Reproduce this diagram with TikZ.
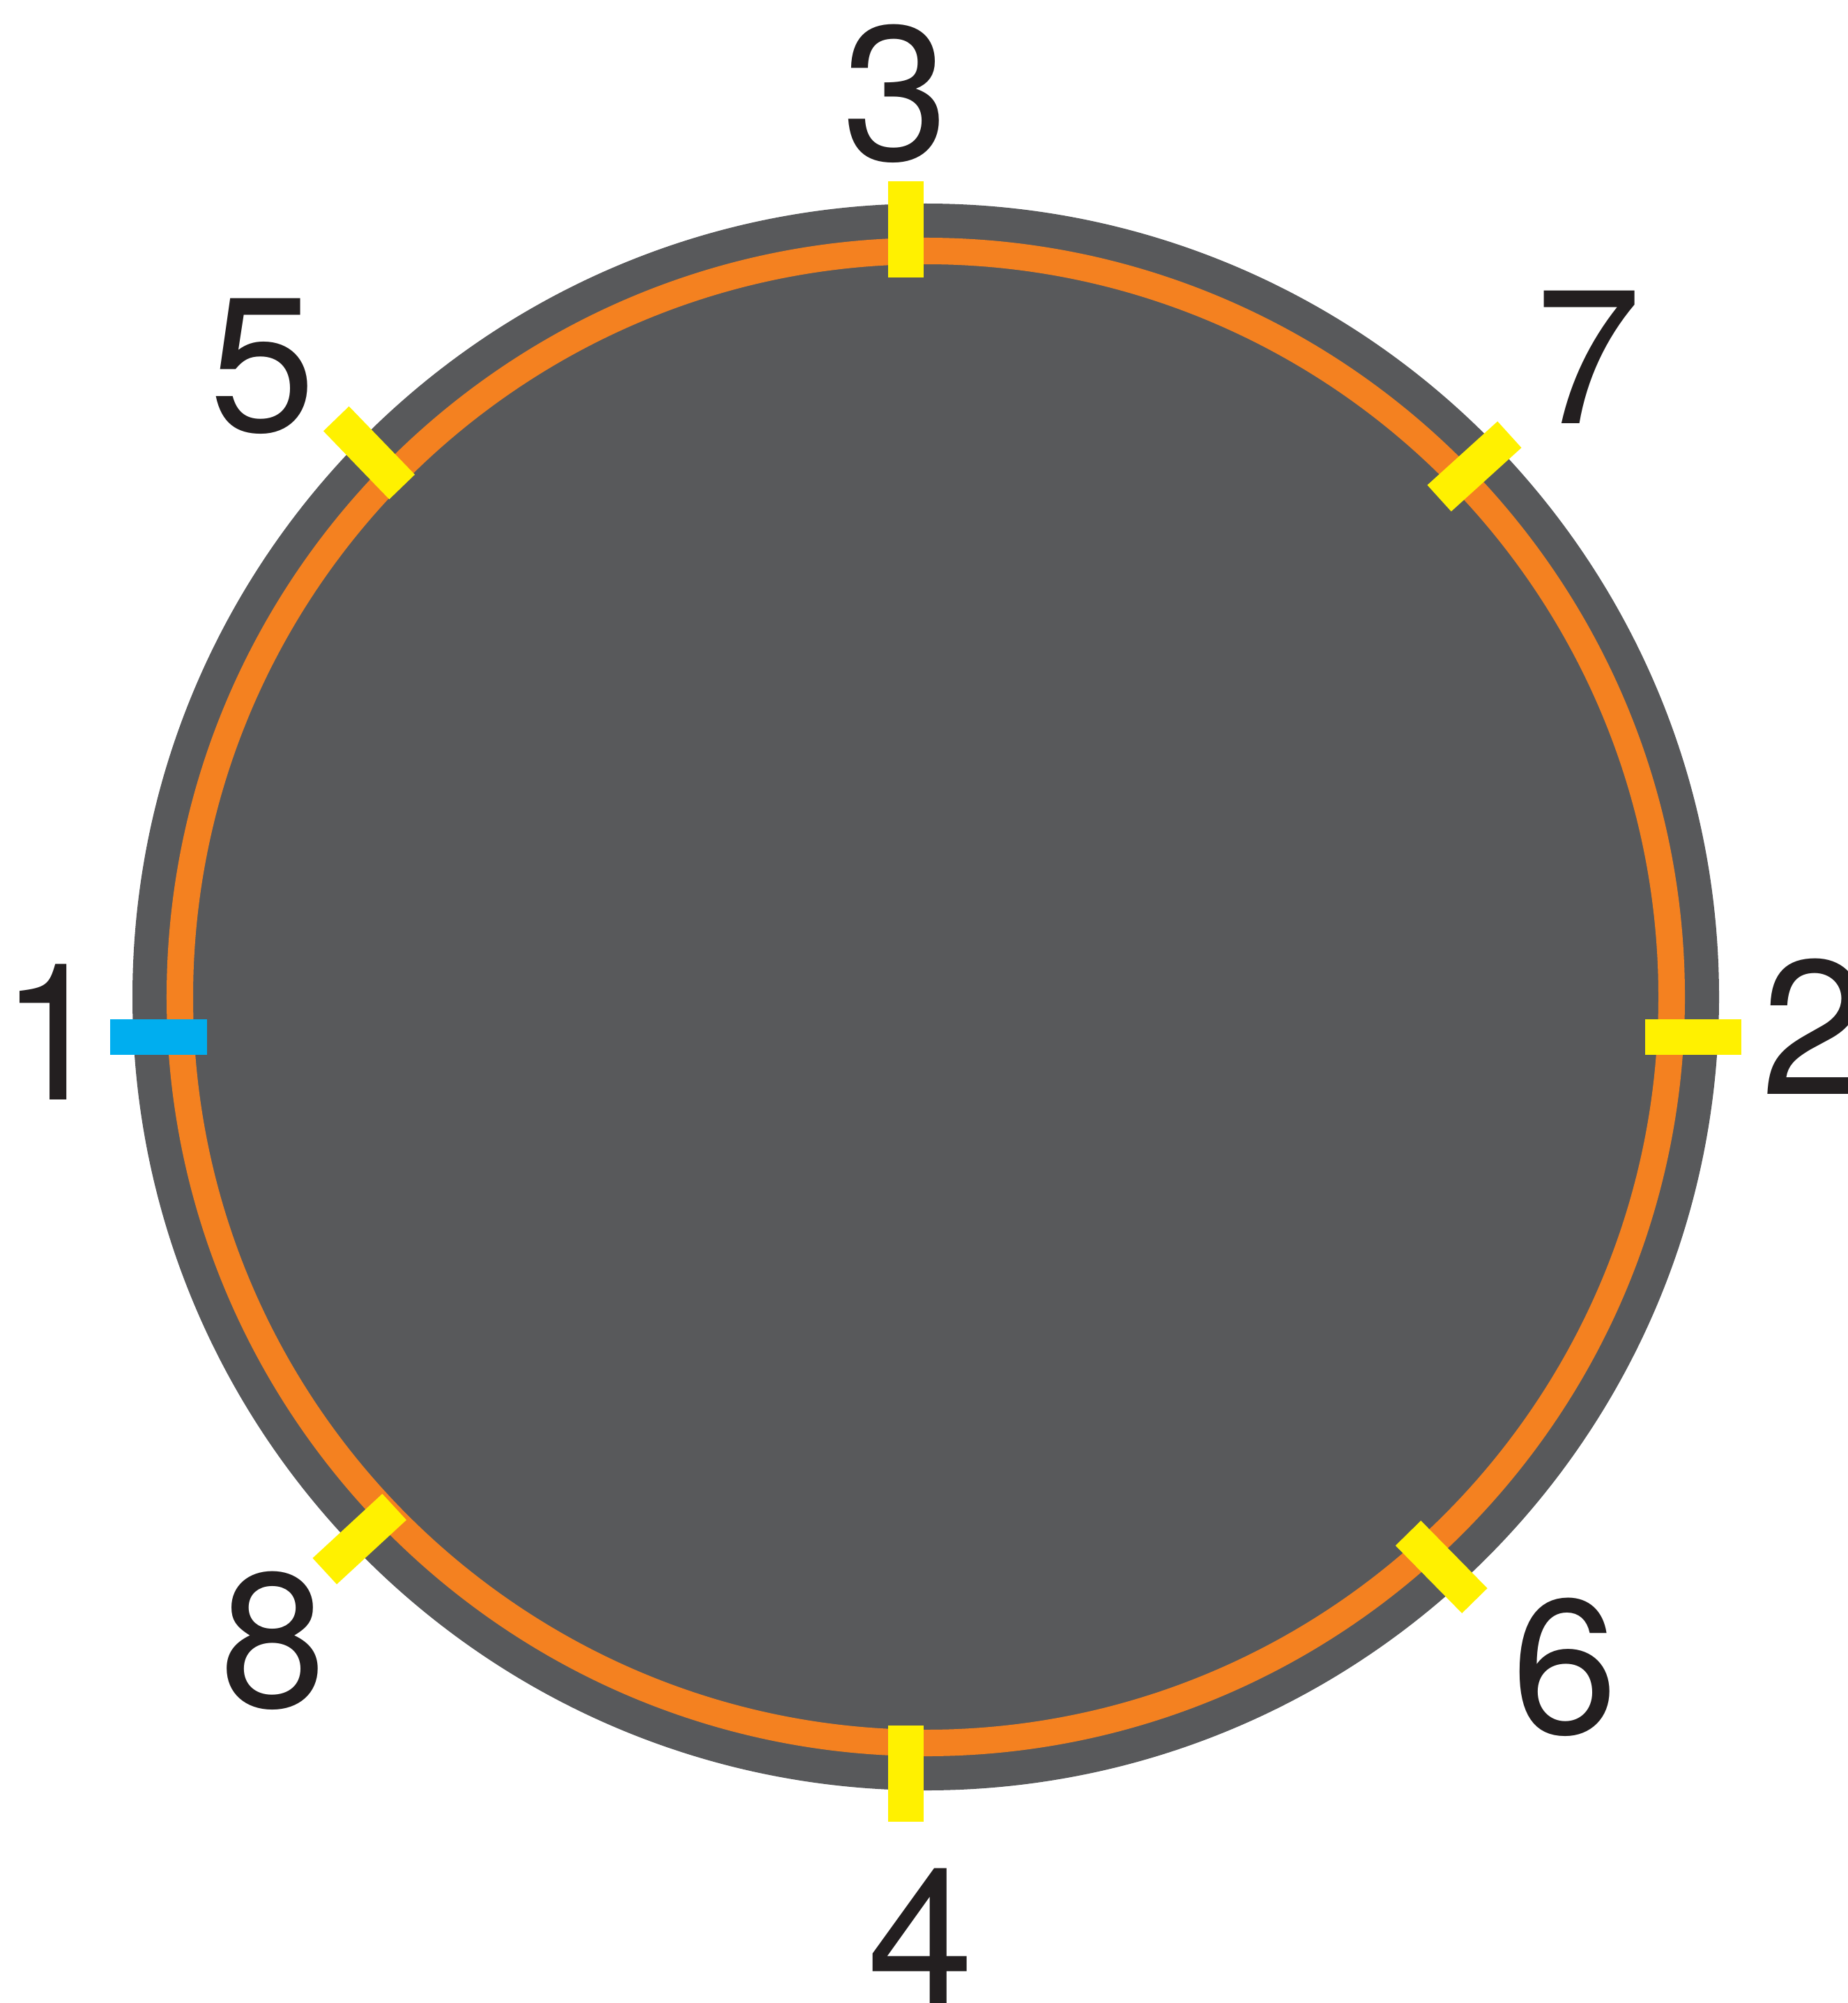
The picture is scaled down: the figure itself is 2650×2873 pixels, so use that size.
\documentclass[tikz,border=0pt]{standalone}
\usepackage{fontspec}
\setmainfont{TeX Gyre Heros}
\usetikzlibrary{calc}
\definecolor{disc}{HTML}{58595B}
\definecolor{ring}{HTML}{F48120}
\definecolor{mark}{HTML}{FFF100}
\definecolor{markone}{HTML}{00AEEF}
\definecolor{txt}{HTML}{231F20}
\begin{document}
\begin{tikzpicture}[x=0.01cm,y=-0.01cm,
  tickmark/.style={line width=0.51cm, draw=mark},
  lab/.style={font=\fontsize{78}{80}\selectfont, text=txt, inner sep=0pt, anchor=center}]
\useasboundingbox (0,0) rectangle (2650,2873);
\coordinate (c) at (1328,1430);
\fill[disc] (c) circle [radius=1138];
\draw[ring, line width=0.38cm] (c) circle [radius=1070];
% ticks
\coordinate (t3) at (1299.5,329);
\coordinate (t4) at (1299.5,2544);
\coordinate (t1) at (227.5,1487.5);
\coordinate (t2) at (2429,1487.5);
\coordinate (t5) at (529.5,649.5);
\coordinate (t7) at (2115,669);
\coordinate (t8) at (515.75,2207.5);
\coordinate (t6) at (2067.75,2247.5);
\draw[tickmark] ($(t3)+(90:-69)$) -- ($(t3)+(90:69)$);
\draw[tickmark] ($(t4)+(90:-69)$) -- ($(t4)+(90:69)$);
\draw[tickmark, draw=markone] ($(t1)+(0:-69.5)$) -- ($(t1)+(0:69.5)$);
\draw[tickmark] ($(t2)+(0:-69)$) -- ($(t2)+(0:69)$);
\draw[tickmark] ($(t5)+(46:-68)$) -- ($(t5)+(46:68)$);
\draw[tickmark] ($(t7)+(137.8:-68)$) -- ($(t7)+(137.8:68)$);
\draw[tickmark] ($(t8)+(137.3:-68)$) -- ($(t8)+(137.3:68)$);
\draw[tickmark] ($(t6)+(45.5:-68)$) -- ($(t6)+(45.5:68)$);
% labels
\node[lab] (l3) at (1285,134) {3};
\node[lab] (l1) at (77,1480) {1};
\node[lab] (l2) at (2603,1472) {2};
\node[lab] (l4) at (1321,2777) {4};
\node[lab] (l5) at (377,525) {5};
\node[lab] (l7) at (2279,512) {7};
\node[lab] (l8) at (392,2353) {8};
\node[lab] (l6) at (2245,2391) {6};
\end{tikzpicture}
\end{document}
